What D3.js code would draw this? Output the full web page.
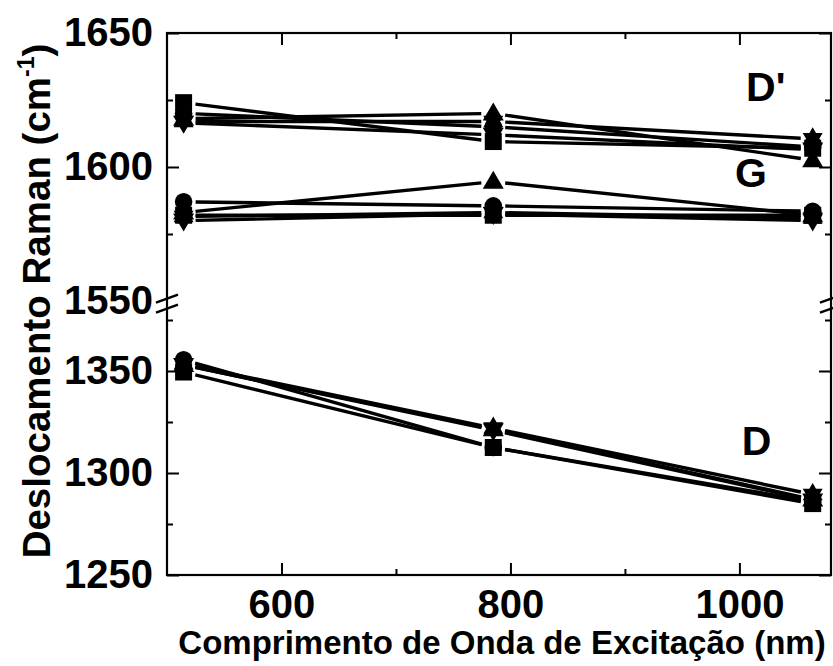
<!DOCTYPE html>
<html>
<head>
<meta charset="utf-8">
<script src="https://cdn.jsdelivr.net/npm/d3@7"></script>
<style>
  html, body { margin: 0; padding: 0; background: #fff; }
  svg { display: block; }
  text { font-family: Arial, "Liberation Sans", sans-serif; font-weight: bold; fill: #000; }
</style>
</head>
<body>
<svg id="chart" width="833" height="666"></svg>
<script>
// ---------------- DATA ----------------
const wavelengths = [514.5, 785, 1064];
const seriesMarkers = ["square", "circle", "triangleUp", "triangleDown", "star"];

// D' band (upper axis segment), one array per series in seriesMarkers order
const dPrimeSquare   = [1624.0, 1609.5, 1607.0];
const dPrimeCircle   = [1620.0, 1615.0, 1607.5];
const dPrimeTriUp    = [1618.0, 1620.0, 1602.5];
const dPrimeTriDown  = [1616.5, 1612.0, 1606.5];
const dPrimeStar     = [1617.0, 1617.0, 1610.5];

// G band (upper axis segment)
const gSquare   = [1582.0, 1582.0, 1582.0];
const gCircle   = [1587.0, 1585.5, 1583.5];
const gTriUp    = [1583.0, 1594.5, 1582.0];
const gTriDown  = [1580.0, 1582.5, 1580.0];
const gStar     = [1581.5, 1583.0, 1581.0];

// D band (lower axis segment)
const dSquare   = [1349.5, 1312.5, 1285.0];
const dCircle   = [1355.5, 1312.5, 1286.0];
const dTriUp    = [1353.0, 1321.5, 1287.0];
const dTriDown  = [1353.0, 1321.0, 1286.5];
const dStar     = [1353.5, 1322.0, 1289.5];

const xMajorTicks = [600, 800, 1000];
const xMinorTicks = [700, 900];
const yUpperMajorTicks = [1600, 1650];
const yUpperLabels = [1550, 1600, 1650];
const yUpperMinorTicks = [1575, 1625];
const yLowerMajorTicks = [1250, 1300, 1350];
const yLowerMinorTicks = [1275, 1325, 1375];

const bandLabels = [
  { text: "D'", band: "upper", x: 1023, y: 1630 },
  { text: "G",  band: "upper", x: 1010, y: 1598 },
  { text: "D",  band: "lower", x: 1015, y: 1316 }
];

// ---------------- LAYOUT ----------------
const svg = d3.select("#chart");
const pLeft = 167, pRight = 831, pTop = 33, pBottom = 575;

const x = d3.scaleLinear().domain([500, 1080]).range([pLeft, pRight]);
const yUp = d3.scaleLinear().domain([1550, 1650]).range([301, pTop]);
const yLow = d3.scaleLinear().domain([1250, 1350]).range([pBottom, 371]);

const bands = [
  { scale: yUp,  series: [dPrimeSquare, dPrimeCircle, dPrimeTriUp, dPrimeTriDown, dPrimeStar] },
  { scale: yUp,  series: [gSquare, gCircle, gTriUp, gTriDown, gStar] },
  { scale: yLow, series: [dSquare, dCircle, dTriUp, dTriDown, dStar] }
];

// ---------------- MARKERS ----------------
function markerPath(type) {
  if (type === "square") { const s = 8.5; return `M${-s},${-s}H${s}V${s}H${-s}Z`; }
  if (type === "circle") { const r = 8.8; return `M${r},0A${r},${r} 0 1,1 ${-r},0A${r},${r} 0 1,1 ${r},0Z`; }
  if (type === "triangleUp") { return "M0,-11L10.5,7L-10.5,7Z"; }
  if (type === "triangleDown") { return "M0,11L-10.5,-7L10.5,-7Z"; }
  if (type === "star") {
    const R = 11.5, c = 0.866 * R, h = 0.5 * R;
    return `M0,${-R}L${c},${h}L${-c},${h}ZM0,${R}L${-c},${-h}L${c},${-h}Z`;
  }
}

const plot = svg.append("g");
const gap = 12;

bands.forEach(band => {
  band.series.forEach((vals, si) => {
    const pts = vals.map((v, i) => [x(wavelengths[i]), band.scale(v)]);
    for (let i = 0; i < pts.length - 1; i++) {
      const [x1, y1] = pts[i], [x2, y2] = pts[i + 1];
      const dx = x2 - x1, dy = y2 - y1, len = Math.hypot(dx, dy);
      const ux = dx / len, uy = dy / len;
      plot.append("line")
        .attr("x1", x1 + ux * gap).attr("y1", y1 + uy * gap)
        .attr("x2", x2 - ux * gap).attr("y2", y2 - uy * gap)
        .attr("stroke", "#000").attr("stroke-width", 3.4);
    }
  });
});

bands.forEach(band => {
  band.series.forEach((vals, si) => {
    plot.selectAll(null)
      .data(vals.map((v, i) => ({ w: wavelengths[i], v })))
      .enter().append("path")
      .attr("d", markerPath(seriesMarkers[si]))
      .attr("transform", d => `translate(${x(d.w)},${band.scale(d.v)})`)
      .attr("fill", "#000");
  });
});

// ---------------- AXES ----------------
const axes = svg.append("g");
function styleAxis(g) {
  g.select(".domain").remove();
  g.selectAll(".tick line").attr("stroke", "#000").attr("stroke-width", 2);
  g.selectAll("text").attr("font-size", 40).style("font-family", "Arial, 'Liberation Sans', sans-serif").style("font-weight", "bold");
}

axes.append("g").attr("transform", `translate(0,${pBottom})`)
  .call(d3.axisBottom(x).tickValues(xMajorTicks).tickSize(-12).tickPadding(15).tickFormat(d3.format("d")))
  .call(styleAxis);
axes.append("g").attr("transform", `translate(0,${pBottom})`)
  .call(d3.axisBottom(x).tickValues(xMinorTicks).tickSize(-6).tickFormat(""))
  .call(styleAxis);
axes.append("g").attr("transform", `translate(0,${pTop})`)
  .call(d3.axisTop(x).tickValues(xMajorTicks).tickSize(-12).tickFormat(""))
  .call(styleAxis);
axes.append("g").attr("transform", `translate(0,${pTop})`)
  .call(d3.axisTop(x).tickValues(xMinorTicks).tickSize(-6).tickFormat(""))
  .call(styleAxis);

axes.append("g").attr("transform", `translate(${pLeft},0)`)
  .call(d3.axisLeft(yUp).tickValues(yUpperMajorTicks).tickSize(-12).tickFormat(""))
  .call(styleAxis);
axes.append("g").attr("transform", `translate(${pLeft},0)`)
  .call(d3.axisLeft(yUp).tickValues(yUpperLabels).tickSize(0).tickPadding(14).tickFormat(d3.format("d")))
  .call(styleAxis);
axes.append("g").attr("transform", `translate(${pLeft},0)`)
  .call(d3.axisLeft(yUp).tickValues(yUpperMinorTicks).tickSize(-6).tickFormat(""))
  .call(styleAxis);
axes.append("g").attr("transform", `translate(${pLeft},0)`)
  .call(d3.axisLeft(yLow).tickValues(yLowerMajorTicks).tickSize(-12).tickPadding(14).tickFormat(d3.format("d")))
  .call(styleAxis);
axes.append("g").attr("transform", `translate(${pLeft},0)`)
  .call(d3.axisLeft(yLow).tickValues(yLowerMinorTicks).tickSize(-6).tickFormat(""))
  .call(styleAxis);
axes.append("g").attr("transform", `translate(${pRight},0)`)
  .call(d3.axisRight(yUp).tickValues(yUpperMajorTicks).tickSize(-12).tickFormat(""))
  .call(styleAxis);
axes.append("g").attr("transform", `translate(${pRight},0)`)
  .call(d3.axisRight(yUp).tickValues(yUpperMinorTicks).tickSize(-6).tickFormat(""))
  .call(styleAxis);
axes.append("g").attr("transform", `translate(${pRight},0)`)
  .call(d3.axisRight(yLow).tickValues(yLowerMajorTicks).tickSize(-12).tickFormat(""))
  .call(styleAxis);
axes.append("g").attr("transform", `translate(${pRight},0)`)
  .call(d3.axisRight(yLow).tickValues(yLowerMinorTicks).tickSize(-6).tickFormat(""))
  .call(styleAxis);

axes.append("rect")
  .attr("x", pLeft).attr("y", pTop)
  .attr("width", pRight - pLeft).attr("height", pBottom - pTop)
  .attr("fill", "none").attr("stroke", "#000").attr("stroke-width", 2.2);

// break marks
const breakY = yUp(1549);
[pLeft, pRight].forEach(cx => {
  [-5, 5].forEach(off => {
    axes.append("line")
      .attr("x1", cx - 11).attr("y1", breakY + off + 4)
      .attr("x2", cx + 11).attr("y2", breakY + off - 4)
      .attr("stroke", "#000").attr("stroke-width", 2.4);
  });
});

bandLabels.forEach(l => {
  const ys = l.band === "upper" ? yUp : yLow;
  svg.append("text")
    .attr("x", x(l.x)).attr("y", ys(l.y))
    .attr("text-anchor", "middle").attr("dy", "0.36em")
    .attr("font-size", 41)
    .text(l.text);
});

svg.append("text")
  .attr("x", 502).attr("y", 654)
  .attr("text-anchor", "middle")
  .attr("font-size", 33)
  .text("Comprimento de Onda de Excitação (nm)");

const yt = svg.append("text")
  .attr("transform", "translate(50,301) rotate(-90)")
  .attr("text-anchor", "middle")
  .attr("font-size", 38.5);
yt.append("tspan").text("Deslocamento Raman (cm");
yt.append("tspan").attr("font-size", 23).attr("dy", -16).text("-1");
yt.append("tspan").attr("dy", 16).text(")");
</script>
</body>
</html>
